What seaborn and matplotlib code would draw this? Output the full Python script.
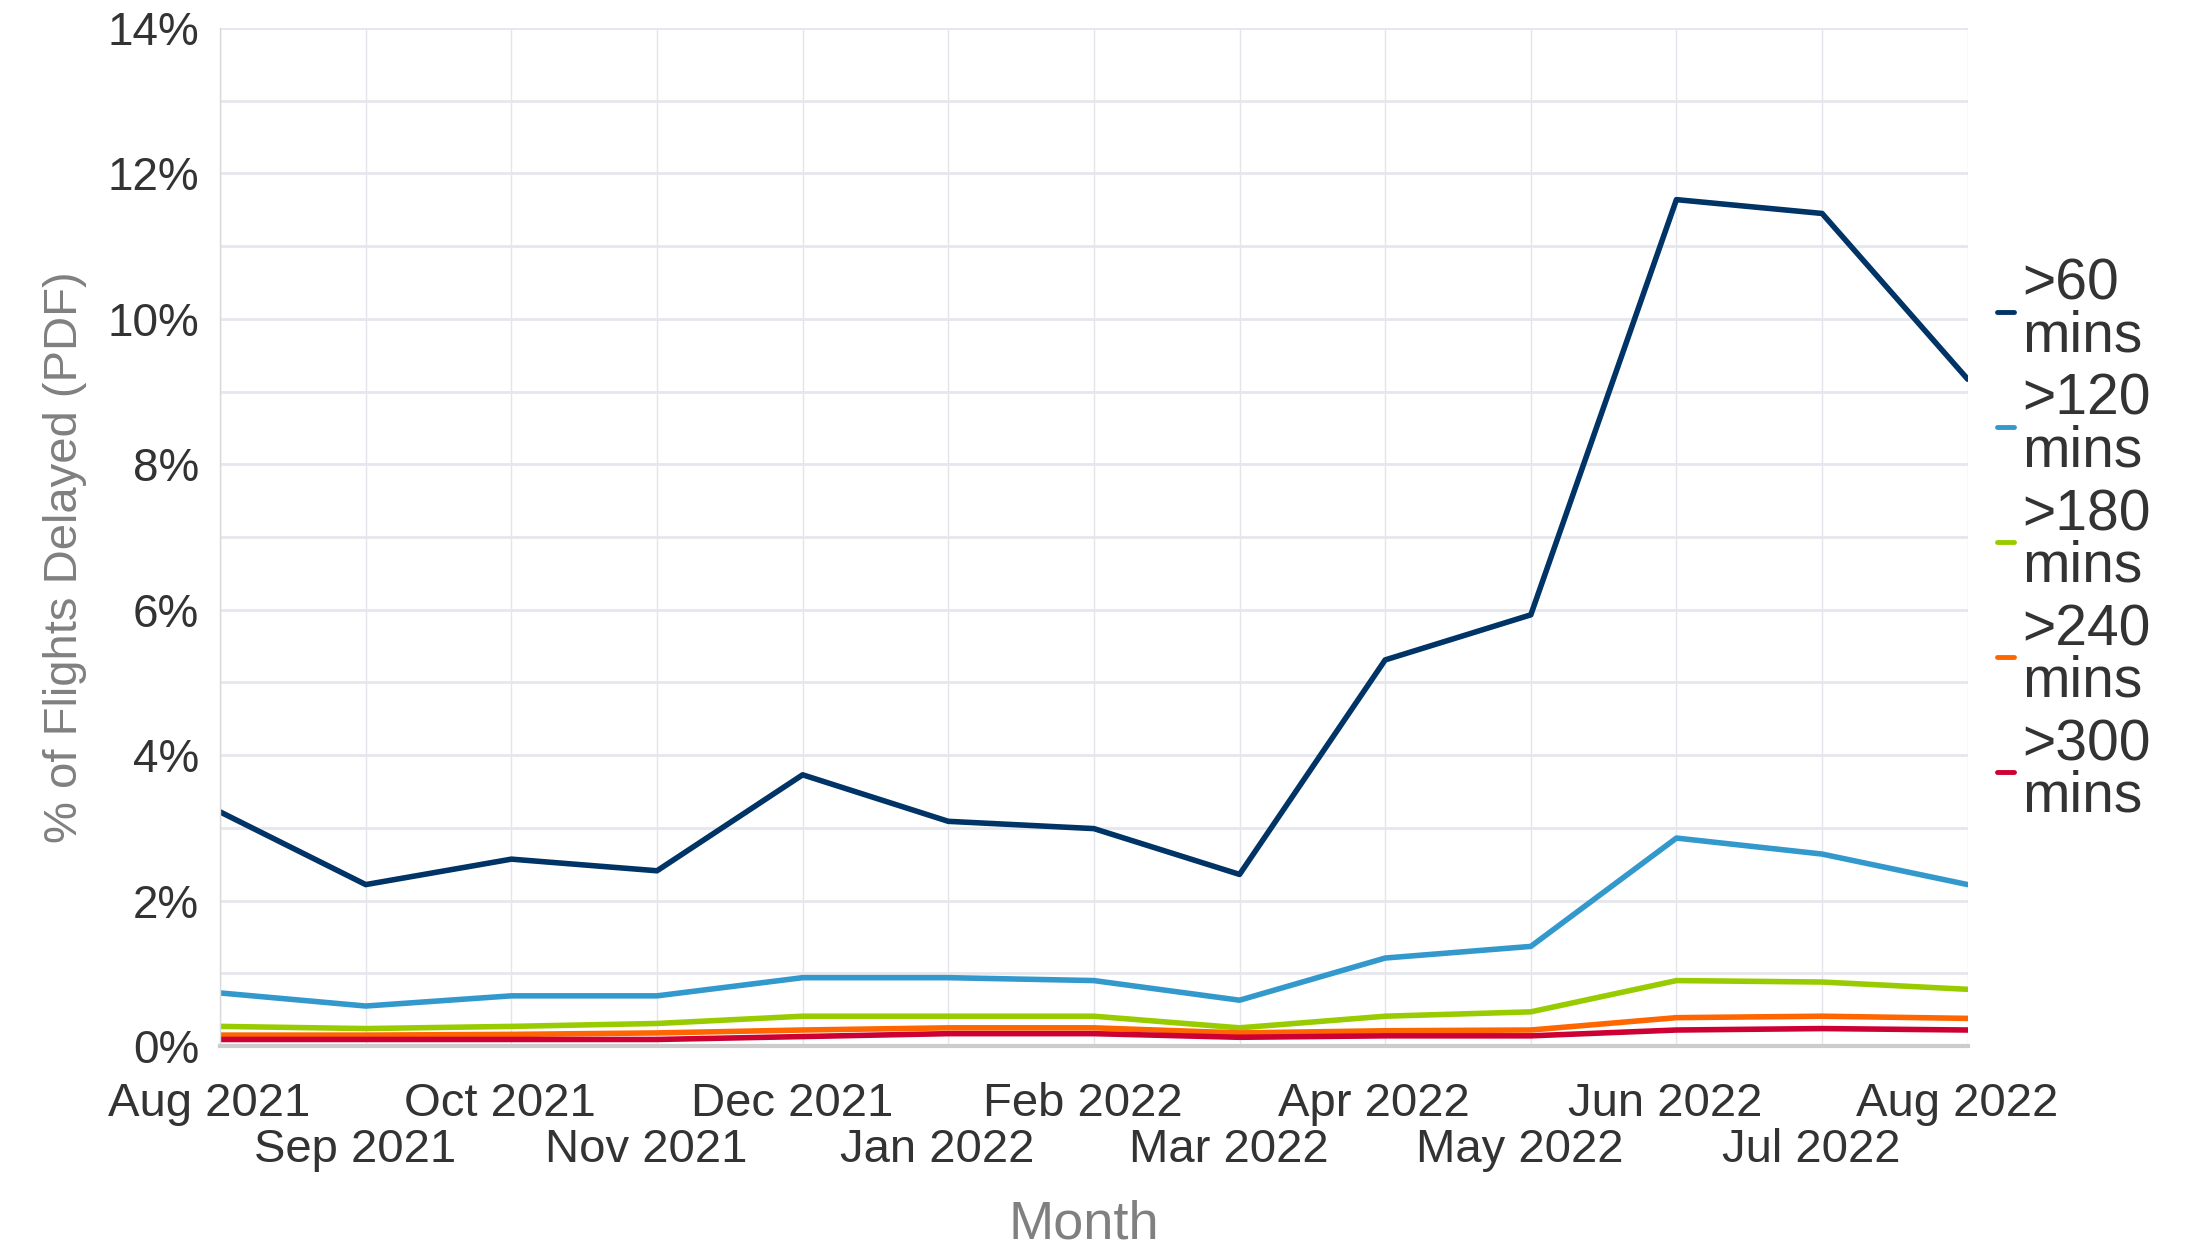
import pandas as pd
import numpy as np
import matplotlib
matplotlib.use('Agg')
import matplotlib.pyplot as plt
import matplotlib.transforms as mtransforms
from matplotlib.ticker import MultipleLocator, FuncFormatter
import seaborn as sns

# Values (% of flights delayed)
months = ['Aug 2021', 'Sep 2021', 'Oct 2021', 'Nov 2021', 'Dec 2021', 'Jan 2022', 'Feb 2022',
          'Mar 2022', 'Apr 2022', 'May 2022', 'Jun 2022', 'Jul 2022', 'Aug 2022']
over_60 = [3.22, 2.22, 2.57, 2.41, 3.73, 3.09, 2.99, 2.36, 5.31, 5.93, 11.64, 11.45, 9.17]
over_120 = [0.73, 0.55, 0.69, 0.69, 0.94, 0.94, 0.90, 0.63, 1.21, 1.37, 2.86, 2.64, 2.22]
over_180 = [0.27, 0.24, 0.27, 0.31, 0.41, 0.41, 0.41, 0.25, 0.41, 0.47, 0.90, 0.88, 0.78]
over_240 = [0.15, 0.15, 0.16, 0.18, 0.22, 0.25, 0.25, 0.18, 0.21, 0.22, 0.39, 0.41, 0.38]
over_300 = [0.09, 0.09, 0.09, 0.09, 0.13, 0.17, 0.17, 0.12, 0.14, 0.14, 0.22, 0.24, 0.22]

series_names = ['>60\nmins', '>120\nmins', '>180\nmins', '>240\nmins', '>300\nmins']
series_values = [over_60, over_120, over_180, over_240, over_300]
colors = ['#003366', '#3399cc', '#99cc00', '#ff6600', '#cc0033']

# long format table for seaborn
rows = []
for name, vals in zip(series_names, series_values):
    for i, v in enumerate(vals):
        rows.append({'month': i, 'pct': v, 'delay': name})
df = pd.DataFrame(rows)

sns.set_theme(style='white')
plt.rcParams['font.family'] = ['Liberation Sans', 'DejaVu Sans']

fig = plt.figure(figsize=(21.9, 12.46), dpi=100)
ax = fig.add_axes([0.1005, 0.1605, 0.798, 0.817])

sns.lineplot(data=df, x='month', y='pct', hue='delay', hue_order=series_names,
             palette=dict(zip(series_names, colors)), linewidth=4.0, ax=ax, legend=True)

ax.set_xlim(0, len(months) - 1)
ax.set_ylim(0, 14)

# grid: every month vertically, every 1% horizontally
ax.set_xticks(range(len(months)))
ax.set_xticklabels(months)
ax.yaxis.set_major_locator(MultipleLocator(2))
ax.yaxis.set_minor_locator(MultipleLocator(1))
ax.yaxis.set_major_formatter(FuncFormatter(lambda v, p: f'{v:.0f}%'))
ax.grid(axis='x', color='#e4e5eb', linewidth=1.0)
ax.grid(axis='y', which='both', color='#e6e6ee', linewidth=2.0)
ax.set_axisbelow(True)

for side in ['top', 'right']:
    ax.spines[side].set_visible(False)
ax.spines['left'].set_color('#d9d9d9')
ax.spines['left'].set_linewidth(1.0)
ax.spines['bottom'].set_color('#cccccc')
ax.spines['bottom'].set_linewidth(3.0)

ax.tick_params(axis='both', which='both', length=0, labelcolor='#333333')
ax.tick_params(axis='y', pad=15, labelsize=33)
ax.tick_params(axis='x', pad=26, labelsize=34)
# stagger the month labels on two rows
for i, t in enumerate(ax.xaxis.get_major_ticks()):
    if i % 2 == 1:
        t.set_pad(59)
# labels sit a little left of their tick in the original
shift = mtransforms.ScaledTranslation(-0.11, 0, fig.dpi_scale_trans)
for lbl in ax.get_xticklabels():
    lbl.set_transform(lbl.get_transform() + shift)

ax.set_xlabel('Month', fontsize=39, color='#808080')
ax.xaxis.set_label_coords(0.494, -0.175)
ax.xaxis.label.set_va('center')
ax.set_ylabel('% of Flights Delayed (PDF)', fontsize=34, color='#808080')
ax.yaxis.set_label_coords(-0.089, 0.48)
ax.yaxis.label.set_va('center')

leg = ax.legend(loc='center left', bbox_to_anchor=(1997 / 2190, 0.566),
                bbox_transform=fig.transFigure, frameon=False, fontsize=41,
                handlelength=0.3, handletextpad=0.15, labelspacing=0.17,
                borderpad=0, borderaxespad=0)
for t in leg.get_texts():
    t.set_linespacing(0.94)
    t.set_color('#333333')
for h in leg.get_lines():
    h.set_linewidth(3.5)

fig.savefig('out.png', dpi=100)
